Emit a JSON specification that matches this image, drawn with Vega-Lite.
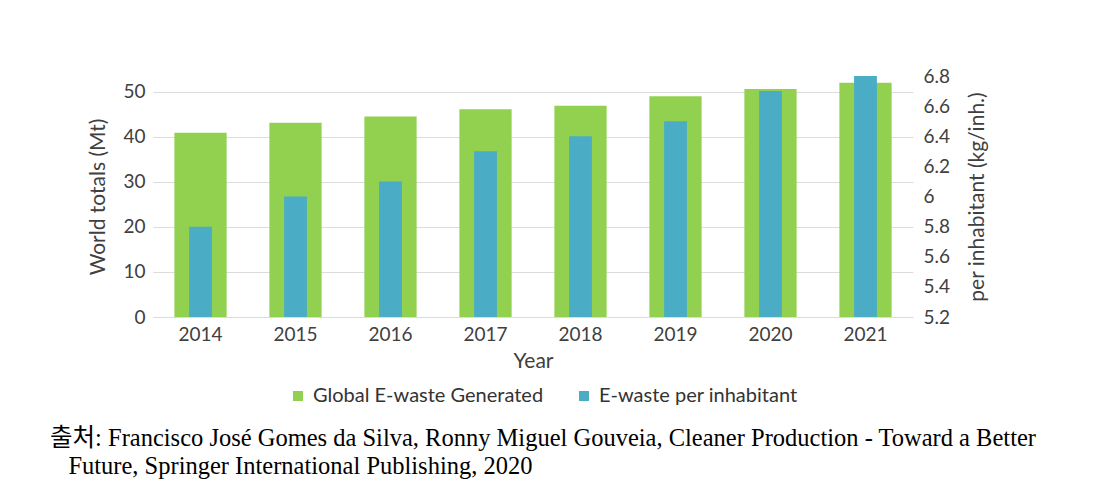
{
  "$schema": "https://vega.github.io/schema/vega-lite/v6.json",
  "width": 760,
  "height": 241,
  "autosize": {"type": "none"},
  "padding": {"left": 153, "top": 76, "right": 190, "bottom": 175},
  "background": "white",
  "config": {
    "font": "Lato",
    "view": {"stroke": null},
    "axis": {
      "labelFont": "Lato",
      "titleFont": "Lato",
      "labelColor": "#404040",
      "titleColor": "#404040",
      "labelFontSize": 19,
      "titleFontSize": 21,
      "titleFontWeight": "normal",
      "ticks": false,
      "domain": false
    }
  },
  "title": {
    "text": ["출처: Francisco José Gomes da Silva, Ronny Miguel Gouveia, Cleaner Production - Toward a Better", "\u200b\u00a0\u00a0\u00a0Future, Springer International Publishing, 2020"],
    "orient": "bottom",
    "anchor": "start",
    "frame": "group",
    "font": "Liberation Serif, Noto Sans CJK KR",
    "fontSize": 24.5,
    "fontWeight": "normal",
    "color": "#000000",
    "lineHeight": 28,
    "dx": -103,
    "offset": 21
  },
  "data": {
    "values": [
      {"Year": "2014", "total": 40.9, "per": 5.8},
      {"Year": "2015", "total": 43.1, "per": 6.0},
      {"Year": "2016", "total": 44.5, "per": 6.1},
      {"Year": "2017", "total": 46.1, "per": 6.3},
      {"Year": "2018", "total": 46.9, "per": 6.4},
      {"Year": "2019", "total": 49.0, "per": 6.5},
      {"Year": "2020", "total": 50.6, "per": 6.7},
      {"Year": "2021", "total": 52.0, "per": 6.8}
    ]
  },
  "encoding": {
    "x": {
      "field": "Year",
      "type": "ordinal",
      "scale": {"paddingInner": 0, "paddingOuter": 0},
      "axis": {"labelAngle": 0, "labelPadding": 8, "title": "Year", "titlePadding": 6}
    }
  },
  "layer": [
    {
      "mark": {"type": "bar", "width": {"band": 0.55}},
      "encoding": {
        "y": {
          "field": "total",
          "type": "quantitative",
          "scale": {"domain": [0, 53.5], "nice": false},
          "axis": {
            "values": [0, 10, 20, 30, 40, 50],
            "grid": true,
            "gridColor": "#dcdcdc",
            "labelPadding": 8,
            "title": "World totals (Mt)",
            "titlePadding": 14
          }
        },
        "color": {
          "datum": "Global E-waste Generated",
          "scale": {
            "domain": ["Global E-waste Generated", "E-waste per inhabitant"],
            "range": ["#92d050", "#4bacc6"]
          },
          "legend": {
            "title": null,
            "orient": "none",
            "legendX": 135,
            "legendY": 310,
            "direction": "horizontal",
            "symbolType": "square",
            "symbolSize": 100,
            "labelFont": "Lato",
            "labelFontSize": 20,
            "labelColor": "#333333",
            "labelLimit": 0,
            "labelOffset": 5,
            "columnPadding": 30
          }
        }
      }
    },
    {
      "mark": {"type": "bar", "width": {"band": 0.24}},
      "encoding": {
        "y": {
          "field": "per",
          "type": "quantitative",
          "scale": {"domain": [5.2, 6.8], "nice": false, "zero": false},
          "axis": {
            "orient": "right",
            "values": [5.2, 5.4, 5.6, 5.8, 6.0, 6.2, 6.4, 6.6, 6.8],
            "format": "~g",
            "grid": false,
            "labelPadding": 10,
            "title": "per inhabitant (kg/inh.)",
            "titleAngle": 270,
            "titlePadding": 38
          }
        },
        "y2": {"datum": 5.2},
        "color": {"datum": "E-waste per inhabitant"}
      }
    }
  ],
  "resolve": {"scale": {"y": "independent"}}
}
